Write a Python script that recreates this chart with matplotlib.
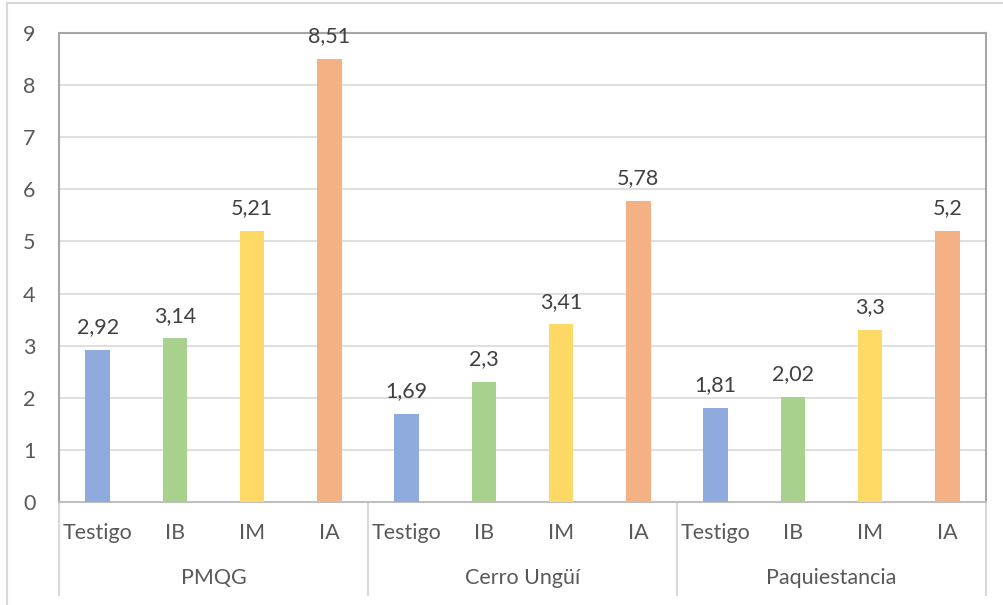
import numpy as np
import matplotlib.pyplot as plt
from matplotlib.patches import Rectangle
from matplotlib.lines import Line2D
import matplotlib.transforms as mtransforms

plt.rcParams['font.family'] = ['Lato', 'DejaVu Sans']

# data: indicator per site and treatment
sites = ['PMQG', 'Cerro Ungüí', 'Paquiestancia']
treatments = ['Testigo', 'IB', 'IM', 'IA']
pmqg = [2.92, 3.14, 5.21, 8.51]
cerro = [1.69, 2.3, 3.41, 5.78]
paqui = [1.81, 2.02, 3.3, 5.2]
yticks = [0, 1, 2, 3, 4, 5, 6, 7, 8, 9]

colors = ['#8FAADC', '#A9D18E', '#FFD966', '#F4B183']
text_col = '#595959'
grid_col = '#D9D9D9'
fs = 15.5

W, H = 1004, 605
fig = plt.figure(figsize=(W / 100, H / 100), dpi=100)

# outer chart frame (right/bottom edges fall outside the canvas)
fig.patches.append(Rectangle((7 / W, -0.1), 1.2, 1 - 3 / H + 0.1, transform=fig.transFigure,
                             fill=False, edgecolor=grid_col, lw=1.5))

left, right, top, bottom = 59, 986, 33, 502
ax = fig.add_axes([left / W, 1 - bottom / H, (right - left) / W, (bottom - top) / H])

groups = [pmqg, cerro, paqui]
n = len(treatments)
for g, vals in enumerate(groups):
    for j, v in enumerate(vals):
        x = g * n + j + 0.5
        ax.bar(x, v, width=0.32, color=colors[j], zorder=3)
        ax.annotate(f'{v:g}'.replace('.', ','), (x, v), xytext=(0, 12), textcoords='offset points',
                    ha='center', va='baseline', fontsize=fs, color='#404040', zorder=4)

ax.set_xlim(0, n * len(sites))
ax.set_ylim(0, 9)
ax.set_yticks(yticks)
ax.set_yticklabels([str(t) for t in yticks], fontsize=fs, color=text_col)
ax.tick_params(axis='y', length=0, pad=17)
ax.set_xticks([])
ax.grid(axis='y', color=grid_col, lw=1.2, zorder=0)

for side in ['top', 'left', 'right']:
    ax.spines[side].set_color('#A6A6A6')
    ax.spines[side].set_linewidth(1.5)
ax.spines['bottom'].set_color('#BFBFBF')
ax.spines['bottom'].set_linewidth(1.5)

# two-level category axis
trans = mtransforms.blended_transform_factory(ax.transData, ax.transAxes)
ax_h = bottom - top
for g, site in enumerate(sites):
    for j, t in enumerate(treatments):
        ax.text(g * n + j + 0.5, -31 / ax_h, t, transform=trans, ha='center', va='center',
                fontsize=fs, color=text_col)
    ax.text(g * n + n / 2, -76 / ax_h, site, transform=trans, ha='center', va='center',
            fontsize=fs, color=text_col)
for k in range(len(sites) + 1):
    ax.add_line(Line2D([k * n, k * n], [0, -93 / ax_h], transform=trans, color=grid_col,
                       lw=1.5, clip_on=False))

fig.savefig('out.png', dpi=100)
